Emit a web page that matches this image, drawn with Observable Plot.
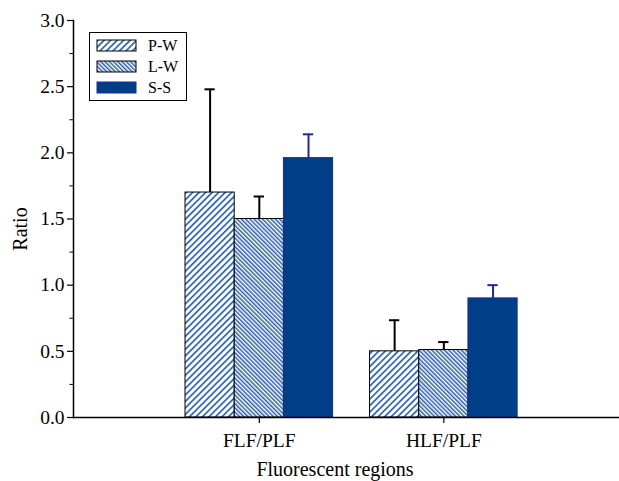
<!DOCTYPE html>
<html>
<head>
<meta charset="utf-8">
<script src="https://cdn.jsdelivr.net/npm/d3@7"></script>
<script src="https://cdn.jsdelivr.net/npm/@observablehq/plot@0.6"></script>
<style>
  html, body { margin: 0; padding: 0; background: #fff; }
  #chart { width: 619px; height: 481px; }
</style>
</head>
<body>
<div id="chart"></div>
<script>
// ---- data ----
const groups = ["FLF/PLF", "HLF/PLF"];
const series = ["P-W", "L-W", "S-S"];
const pwMean = [1.70, 0.50];
const pwErr  = [0.78, 0.235];
const lwMean = [1.50, 0.51];
const lwErr  = [0.17, 0.06];
const ssMean = [1.96, 0.90];
const ssErr  = [0.18, 0.10];
const yMajorTicks = [0, 0.5, 1.0, 1.5, 2.0, 2.5, 3.0];
const yMinorTicks = [0.25, 0.75, 1.25, 1.75, 2.25, 2.75];

// ---- styles / layout ----
const fills = ["url(#pat-pw)", "url(#pat-lw)", "#003f87"];
const strokes = {"P-W": "#000", "L-W": "#000", "S-S": "#1c2f8f"};
const errColors = {"P-W": "#000", "L-W": "#000", "S-S": "#1f2a9c"};
const groupWidth = 0.8;
const barW = groupWidth / series.length;
const capHalf = 0.028;

const means = [pwMean, lwMean, ssMean];
const errs = [pwErr, lwErr, ssErr];
const rows = [];
groups.forEach((g, gi) => series.forEach((s, si) => {
  const xc = gi + 1 + (si - (series.length - 1) / 2) * barW;  // dodge within group
  rows.push({group: g, series: s, value: means[si][gi], err: errs[si][gi],
             x1: xc - barW / 2, x2: xc + barW / 2, xc});
}));

const font = "'Liberation Serif', 'Times New Roman', serif";

const barMarks = series.map(s => Plot.rectY(rows.filter(d => d.series === s), {
  x1: "x1", x2: "x2", y1: 0, y2: "value", fill: "series",
  stroke: strokes[s], strokeWidth: 1
}));
const errMarks = series.flatMap(s => {
  const r = rows.filter(d => d.series === s);
  return [
    Plot.ruleX(r, {x: "xc", y1: "value", y2: d => d.value + d.err, stroke: errColors[s], strokeWidth: 2}),
    Plot.ruleY(r, {x1: d => d.xc - capHalf, x2: d => d.xc + capHalf, y: d => d.value + d.err, stroke: errColors[s], strokeWidth: 2})
  ];
});

const chart = Plot.plot({
  width: 619,
  height: 481,
  marginLeft: 73,
  marginRight: 0,
  marginTop: 20,
  marginBottom: 64,
  style: {fontFamily: font, fontSize: "19px", color: "#000", background: "#fff", overflow: "visible"},
  x: {type: "linear", domain: [-0.007, 2.952], axis: null},
  y: {domain: [0, 3]},
  color: {domain: series, range: fills},
  marks: [
    ...barMarks,
    ...errMarks,
    Plot.frame({anchor: "left", stroke: "#000", strokeWidth: 1.5}),
    Plot.frame({anchor: "bottom", stroke: "#000", strokeWidth: 1.5}),
    Plot.axisY({ticks: yMajorTicks, tickFormat: d3.format(".1f"), tickSize: 6, tickPadding: 3,
      fontSize: 19.5, label: null, strokeWidth: 1.2}),
    Plot.axisY({ticks: yMinorTicks, tickFormat: () => "", tickSize: 3.5, label: null, strokeWidth: 1}),
    Plot.axisX({ticks: [1, 2], tickFormat: i => groups[i - 1], tickSize: 6, tickPadding: 10, fontSize: 19.5,
      label: null, strokeWidth: 1.2})
  ]
});

// ---- hatch patterns ----
const svg = d3.select(chart);
const defs = svg.insert("defs", ":first-child");
function hatch(id, angle, period, lineW, color) {
  const p = defs.append("pattern")
    .attr("id", id).attr("patternUnits", "userSpaceOnUse")
    .attr("width", period).attr("height", 10)
    .attr("patternTransform", `rotate(${angle})`);
  p.append("rect").attr("width", period).attr("height", 10).attr("fill", "#fff");
  p.append("rect").attr("x", 0).attr("width", lineW).attr("height", 10).attr("fill", color);
}
hatch("pat-pw", 45, 4.6, 1.7, "#2a64b0");
hatch("pat-lw", -45, 3.0, 1.5, "#2a5ea8");

// ---- axis titles ----
const titles = svg.append("g").attr("font-family", font).attr("font-size", 20)
  .attr("fill", "#000").attr("text-anchor", "middle");
titles.append("text").attr("transform", "translate(20,229) rotate(-90)")
  .attr("dy", "0.35em").text("Ratio");
titles.append("text").attr("x", 335).attr("y", 468.5).attr("dy", "0.35em").text("Fluorescent regions");

// ---- legend (inside plot area, top-left) ----
const lg = svg.append("g").attr("font-family", font).attr("font-size", 16)
  .attr("text-anchor", "start").attr("fill", "#000");
lg.append("rect").attr("x", 89.5).attr("y", 32.5).attr("width", 97).attr("height", 68)
  .attr("fill", "#fff").attr("stroke", "#000").attr("stroke-width", 1);
series.forEach((s, i) => {
  const y = 40 + i * 21;
  lg.append("rect").attr("x", 97).attr("y", y).attr("width", 39).attr("height", 11)
    .attr("fill", fills[i]).attr("stroke", strokes[s]).attr("stroke-width", 1);
  lg.append("text").attr("x", 148).attr("y", y + 5.5).attr("dy", "0.35em").text(s);
});

document.getElementById("chart").appendChild(chart);
</script>
</body>
</html>
